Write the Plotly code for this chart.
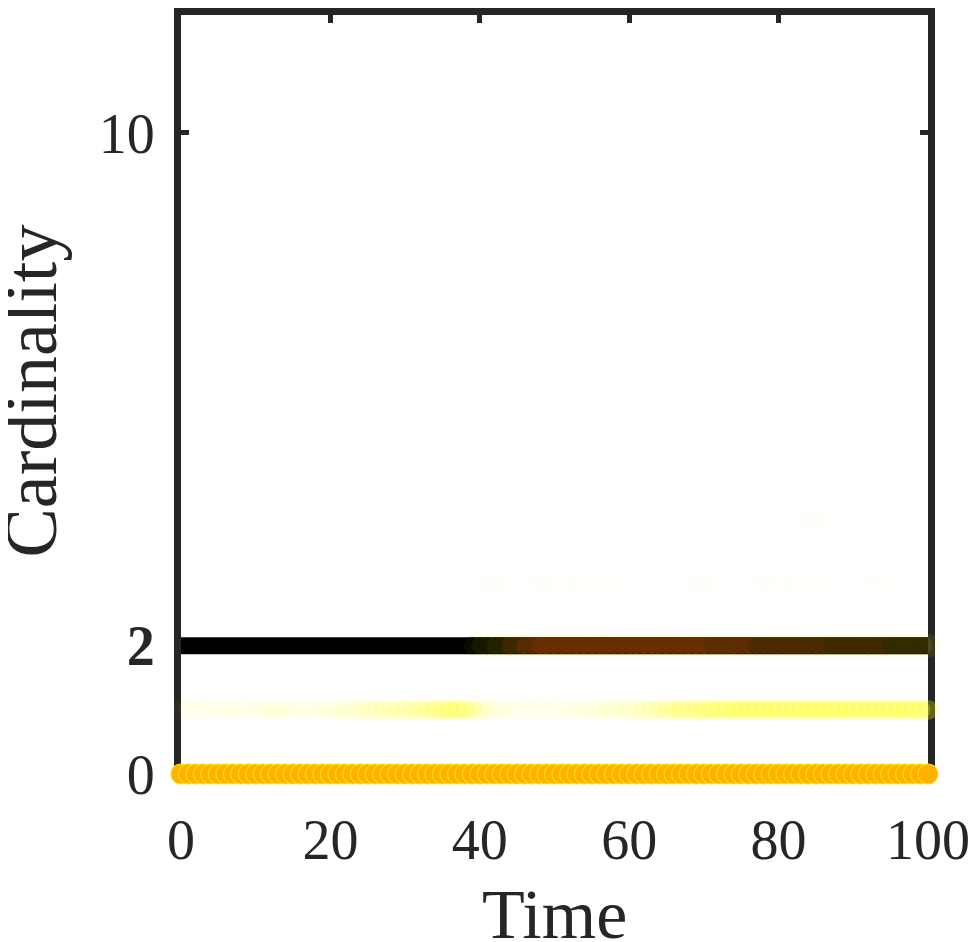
import plotly.graph_objects as go

# time steps and cardinality levels
time = list(range(0, 101))
level_zero = [0] * len(time)
level_one = [1] * len(time)
level_two = [2] * len(time)

# per-step opacity of the cardinality-1 estimate
one_alpha = [0.03, 0.03, 0.04, 0.03, 0.03, 0.04, 0.04, 0.04, 0.03, 0.03,
             0.04, 0.05, 0.06, 0.06, 0.05, 0.04, 0.03, 0.04, 0.04, 0.05,
             0.06, 0.07, 0.07, 0.08, 0.09, 0.1, 0.11, 0.12, 0.12, 0.13,
             0.14, 0.15, 0.17, 0.19, 0.2, 0.23, 0.26, 0.25, 0.23, 0.18,
             0.12, 0.08, 0.06, 0.05, 0.04, 0.03, 0.03, 0.03, 0.03, 0.03,
             0.03, 0.03, 0.04, 0.04, 0.05, 0.05, 0.06, 0.07, 0.08, 0.08,
             0.09, 0.1, 0.11, 0.13, 0.15, 0.17, 0.19, 0.2, 0.21, 0.22,
             0.24, 0.25, 0.26, 0.26, 0.27, 0.27, 0.27, 0.27, 0.27, 0.27,
             0.27, 0.27, 0.27, 0.28, 0.28, 0.28, 0.28, 0.28, 0.28, 0.28,
             0.28, 0.28, 0.28, 0.28, 0.28, 0.28, 0.28, 0.28, 0.28, 0.28, 0.28]

# faint traces at higher cardinalities
three_times = [40, 41, 42, 43, 47, 48, 49, 50, 52, 53, 55, 57, 59, 68, 69, 70, 71,
               77, 78, 79, 81, 82, 84, 86, 92, 93, 95]
four_times = [83, 84, 85, 86]

# colour of the cardinality-2 estimate after t=39: (start, end, colour)
two_segments = [(39, 39, "#0a0a00"), (40, 41, "#161800"), (42, 43, "#222200"),
                (44, 45, "#3a2600"), (46, 47, "#582a00"), (48, 70, "#6a2d00"),
                (71, 76, "#5e2c00"), (77, 86, "#4c2a00"), (87, 94, "#402a00"),
                (95, 100, "#342a00")]

FONT = "Liberation Serif"
AX = "#262626"

fig = go.Figure()

# faint high-cardinality markers
fig.add_trace(go.Scatter(x=three_times, y=[3] * len(three_times), mode="markers",
                         marker=dict(size=20, color="rgba(255,255,0,0.012)", line=dict(width=0)),
                         cliponaxis=False, hoverinfo="skip"))
fig.add_trace(go.Scatter(x=four_times, y=[4] * len(four_times), mode="markers",
                         marker=dict(size=20, color="rgba(255,255,0,0.01)", line=dict(width=0)),
                         cliponaxis=False, hoverinfo="skip"))

# estimate at cardinality 2: pale halo, true black band, then fill
xs, cols = [], []
for s, e, c in two_segments:
    for t in time:
        if s <= t <= e:
            xs.append(t)
            cols.append(c)
fig.add_trace(go.Scatter(x=xs, y=[level_two[t] for t in xs], mode="markers",
                         marker=dict(size=23, color="rgba(255,255,0,0.09)", line=dict(width=0)),
                         cliponaxis=False, hoverinfo="skip"))
fig.add_trace(go.Scatter(x=time, y=level_two, mode="lines",
                         line=dict(color="black", width=17), hoverinfo="skip"))
fig.add_trace(go.Scatter(x=xs, y=[level_two[t] for t in xs], mode="markers",
                         marker=dict(size=17, color=cols, line=dict(width=0)),
                         cliponaxis=True, hoverinfo="skip"))

# estimate at cardinality 1
fig.add_trace(go.Scatter(x=time, y=level_one, mode="markers",
                         marker=dict(size=20, color=[f"rgba(255,255,0,{a})" for a in one_alpha],
                                     line=dict(width=0)),
                         cliponaxis=False, hoverinfo="skip"))

# cardinality 0
fig.add_trace(go.Scatter(x=time, y=level_zero, mode="markers",
                         marker=dict(size=20, color="#ffb000",
                                     line=dict(color="#ffe000", width=1.2)),
                         cliponaxis=False, hoverinfo="skip"))

axis_common = dict(showline=True, linecolor=AX, linewidth=7, mirror="ticks",
                   ticks="inside", ticklen=8, tickwidth=5, tickcolor=AX,
                   showgrid=False, zeroline=False, layer="below traces",
                   automargin=False,
                   tickfont=dict(family=FONT, size=56, color=AX))

fig.update_xaxes(range=[0, 100], tickvals=[0, 20, 40, 60, 80, 100],
                 ticklabelstandoff=11, **axis_common)
fig.update_yaxes(range=[0, 11.84], tickvals=[0, 2, 10], ticktext=["0", "<b>2</b>", "10"],
                 ticklabelstandoff=8, **axis_common)

# axis titles placed as annotations for exact positioning
fig.add_annotation(text="Time", xref="paper", yref="paper", x=0.5, y=0,
                   xanchor="center", yanchor="middle", yshift=-140, showarrow=False,
                   font=dict(family=FONT, size=70, color=AX))
fig.add_annotation(text="Cardinality", xref="paper", yref="paper", x=0, y=0.5,
                   xanchor="center", yanchor="middle", xshift=-151, yshift=3,
                   textangle=-90, showarrow=False,
                   font=dict(family=FONT, size=74, color=AX))

# page body adds an 8px offset, so the figure is sized to fit the 977x942 window
fig.update_layout(width=969, height=934, showlegend=False,
                  margin=dict(l=173, r=49, t=7, b=168),
                  plot_bgcolor="white", paper_bgcolor="white")

fig.write_html("out.html")
